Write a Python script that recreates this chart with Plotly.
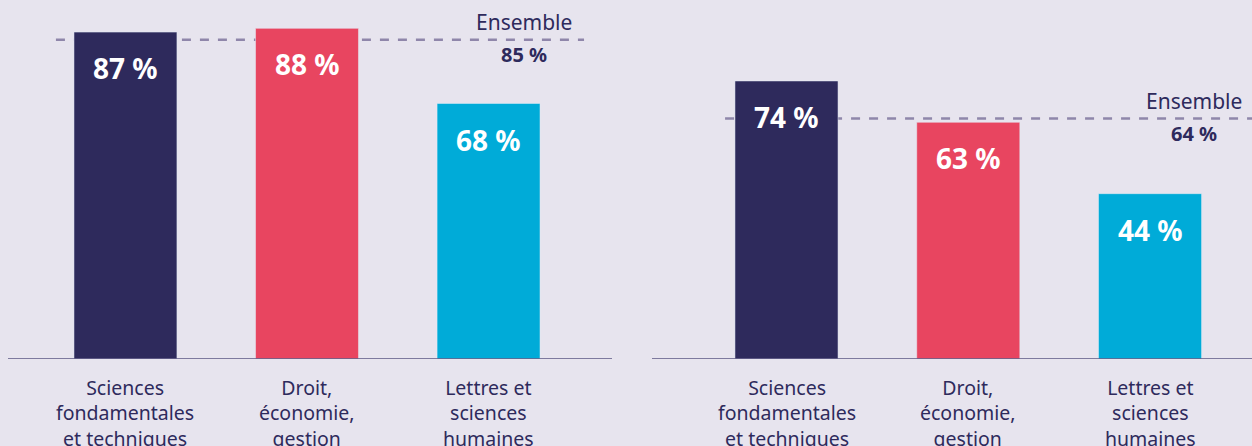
import plotly.graph_objects as go

categories = ["Sciences<br>fondamentales<br>et techniques", "Droit,<br>économie,<br>gestion", "Lettres et<br>sciences<br>humaines"]
values_left = [87, 88, 68]
values_right = [74, 63, 44]
ensemble_left = 85
ensemble_right = 64
bar_colors = ["#2E2A5C", "#E84560", "#00ABD8"]

BG = "#E7E4EE"
NAVY = "#2E2A5C"
DASH = "#8F86AA"
FONT = "Noto Sans"

fig = go.Figure()

x_idx = [0, 1, 2]
fig.add_trace(go.Bar(x=x_idx, y=values_left, marker_color=bar_colors, width=0.567,
                     xaxis="x", yaxis="y", showlegend=False, hoverinfo="skip"))
fig.add_trace(go.Bar(x=x_idx, y=values_right, marker_color=bar_colors, width=0.567,
                     xaxis="x2", yaxis="y2", showlegend=False, hoverinfo="skip"))

ymax = 95.55
fig.update_layout(
    width=1252, height=446,
    margin=dict(l=0, r=0, t=0, b=87),
    paper_bgcolor=BG, plot_bgcolor=BG,
    xaxis=dict(domain=[8/1252, 612/1252], range=[-0.647, 2.680], showticklabels=False,
               showgrid=False, zeroline=False, showline=False, fixedrange=True),
    xaxis2=dict(domain=[652/1252, 1.0], range=[-0.740, 2.561], showticklabels=False,
                showgrid=False, zeroline=False, showline=False, fixedrange=True),
    yaxis=dict(range=[0, ymax], visible=False, anchor="x"),
    yaxis2=dict(range=[0, ymax], visible=False, anchor="x2"),
    font=dict(family=FONT, color=NAVY),
)

# baselines
for xr, yr in (("x domain", "y"), ("x2 domain", "y2")):
    fig.add_shape(type="line", xref=xr, yref=yr, x0=0, x1=1, y0=0, y1=0,
                  line=dict(color="#5B5783", width=1.5))

# ensemble lines (behind bars)
fig.add_shape(type="line", xref="x", yref="y", x0=-0.383, x1=2.526, layer="below",
              y0=ensemble_left, y1=ensemble_left, line=dict(color=DASH, width=2.5, dash="dash"))
fig.add_shape(type="line", xref="x2", yref="y2", x0=-0.338, x1=2.561, layer="below",
              y0=ensemble_right, y1=ensemble_right, line=dict(color=DASH, width=2.5, dash="dash"))

for xr, yr, vals, ens, ex in (("x", "y", values_left, ensemble_left, 2.196),
                               ("x2", "y2", values_right, ensemble_right, 2.242)):
    for i, (cat, v) in enumerate(zip(categories, vals)):
        fig.add_annotation(xref=xr, yref=yr, x=i, y=v, text=f"<b>{v} %</b>",
                           showarrow=False, yanchor="top", yshift=-15,
                           font=dict(size=28, color="white", family=FONT))
        fig.add_annotation(xref=xr, yref=yr, x=i, y=0, text=cat, showarrow=False,
                           yanchor="top", yshift=-13, align="center",
                           font=dict(size=19.5, color=NAVY, family=FONT))
    fig.add_annotation(xref=xr, yref=yr, x=ex, y=ens, text="Ensemble", showarrow=False,
                       yanchor="middle", yshift=18, font=dict(size=21, color=NAVY, family=FONT))
    fig.add_annotation(xref=xr, yref=yr, x=ex, y=ens, text=f"<b>{ens} %</b>", showarrow=False,
                       yanchor="middle", yshift=-15, font=dict(size=20, color=NAVY, family=FONT))

fig.write_html("out.html")
